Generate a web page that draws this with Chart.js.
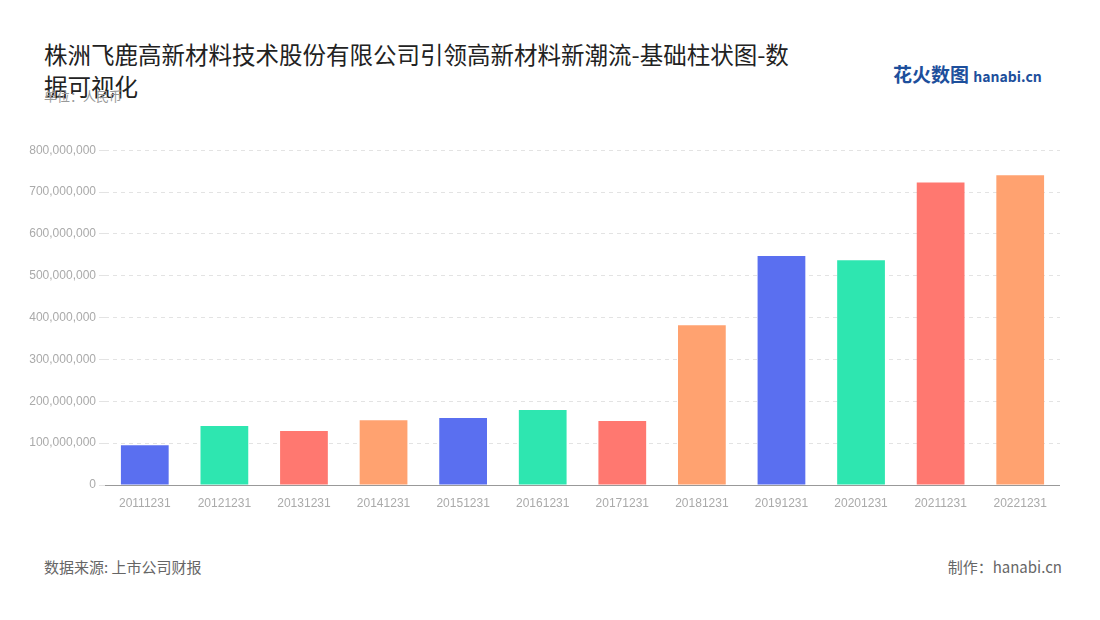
<!DOCTYPE html>
<html>
<head>
<meta charset="utf-8">
<script src="https://cdn.jsdelivr.net/npm/chart.js@4/dist/chart.umd.min.js"></script>
<style>
  body { margin: 0; width: 1100px; height: 620px; background: #fff; font-family: "Noto Sans CJK SC", "Noto Sans", sans-serif; position: relative; overflow: hidden; }
  #title { position: absolute; left: 44px; top: 38px; width: 800px; font-size: 23.5px; line-height: 32px; color: #222; }
  #unit { position: absolute; left: 44px; top: 86px; font-size: 13px; color: #999; }
  #logo { position: absolute; left: 893px; top: 60px; font-size: 19px; font-weight: bold; color: #1d4f9c; }
  #logo small { font-size: 14px; }
  #box { position: absolute; left: 0; top: 140px; width: 1060px; height: 380px; }
  .foot { position: absolute; top: 556px; font-size: 15px; color: #666; }
</style>
</head>
<body>
<div id="title">株洲飞鹿高新材料技术股份有限公司引领高新材料新潮流-基础柱状图-数<br>据可视化</div>
<div id="unit">单位：人民币</div>
<div id="logo">花火数图 <small>hanabi.cn</small></div>
<div id="box"><canvas id="chart"></canvas></div>
<div class="foot" style="left:44px">数据来源: 上市公司财报</div>
<div class="foot" style="right:38px">制作：hanabi.cn</div>
<script>
// categories and values
const dates = ['20111231', '20121231', '20131231', '20141231', '20151231', '20161231',
    '20171231', '20181231', '20191231', '20201231', '20211231', '20221231'];
const amounts = [95e6, 141e6, 129e6, 155e6, 160e6, 179e6, 153e6, 382e6, 547e6, 537e6, 723e6, 740e6];
const palette = ['#5a6ff0', '#2ee6b0', '#ff7870', '#ffa270'];

new Chart(document.getElementById('chart'), {
    type: 'bar',
    data: {
        labels: dates,
        datasets: [{
            data: amounts,
            backgroundColor: dates.map((d, i) => palette[i % 4]),
            categoryPercentage: 0.6,
            barPercentage: 1
        }]
    },
    options: {
        responsive: true,
        maintainAspectRatio: false,
        animation: false,
        layout: { padding: { top: 10 } },
        plugins: { legend: { display: false }, tooltip: { enabled: false } },
        scales: {
            x: {
                grid: { display: false },
                border: { color: '#999' },
                ticks: { color: '#aaa', font: { size: 12 }, maxRotation: 0 },
                afterFit: s => { s.height = 35; }
            },
            y: {
                min: 0, max: 800e6,
                border: { display: false, dash: [4, 4] },
                grid: { color: '#e3e3e3', tickLength: 6 },
                ticks: { stepSize: 100e6, color: '#aaa', font: { size: 12 },
                    callback: v => v.toLocaleString('en-US') },
                afterFit: s => { s.width = 105; }
            }
        }
    }
});
</script>
</body>
</html>
